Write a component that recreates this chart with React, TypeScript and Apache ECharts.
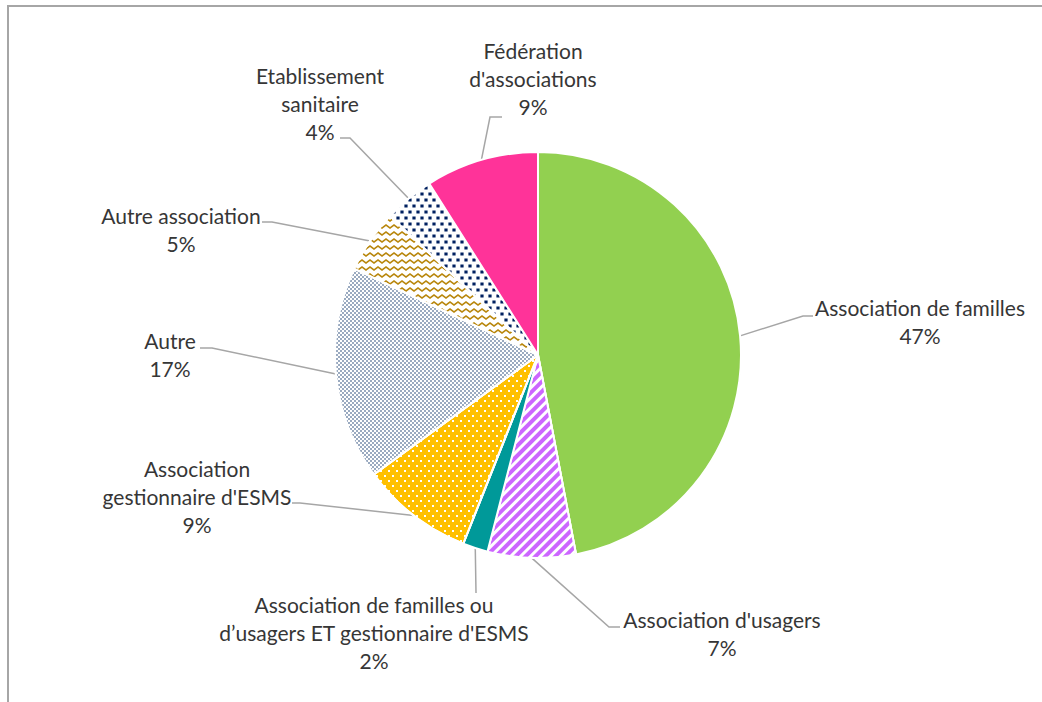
import React, { useEffect, useRef } from "react";
import * as echarts from "echarts";

// ---- Data (clockwise from 12 o'clock) ----
const categories: string[] = [
  "Association de familles",
  "Association d'usagers",
  "Association de familles ou\nd’usagers ET gestionnaire d'ESMS",
  "Association\ngestionnaire d'ESMS",
  "Autre",
  "Autre association",
  "Etablissement\nsanitaire",
  "Fédération\nd'associations",
];
const percentages: number[] = [47, 7, 2, 9, 17, 5, 4, 9];

// ---- Styling (not data) ----
const fills: string[] = [
  "#92D050",
  "#FFFFFF",
  "#009999",
  "#FFC000",
  "#FFFFFF",
  "#FFFFFF",
  "#FFFFFF",
  "#FF3399",
];
const decals: any[] = [
  null,
  { symbol: "rect", symbolSize: 1, color: "#CC66FF", dashArrayX: [1, 0], dashArrayY: [3.2, 3], rotation: -Math.PI / 4 },
  null,
  { symbol: "rect", symbolSize: 1, color: "#FFFFFF", dashArrayX: [[2, 6], [0, 4, 2, 2]], dashArrayY: [2, 2.5] },
  { symbol: "rect", symbolSize: 1, color: "#9AAAC0", dashArrayX: [[2, 2], [0, 2, 2, 0]], dashArrayY: [2, 0] },
  {
    symbol: "path://M0,1.5 L2,0 L6,3 L8,1.5 L8,3.3 L6,4.8 L2,1.8 L0,3.3 Z",
    symbolSize: 1,
    color: "#B8860B",
    dashArrayX: [8, 0],
    dashArrayY: [4.8, 2],
  },
  { symbol: "rect", symbolSize: 0.8, color: "#002060", dashArrayX: [[3.5, 3.5], [0, 3.5, 3.5, 0]], dashArrayY: [3.5, 1.5] },
  null,
];

// label placement: centre of text block, elbow of leader line, end of leader line
const labelPlacement = [
  { x: 920, y: 321, elbow: [803, 316], end: [813, 316] },
  { x: 722, y: 633, elbow: [609, 627], end: [620, 627] },
  { x: 374, y: 632, elbow: [476, 592], end: [476, 593] },
  { x: 197, y: 496, elbow: [300, 503], end: [292, 503] },
  { x: 170, y: 354, elbow: [212, 348], end: [200, 348] },
  { x: 181, y: 229, elbow: [272, 222], end: [262, 222] },
  { x: 320, y: 103, elbow: [350, 138], end: [340, 138] },
  { x: 533, y: 78, elbow: [490, 117], end: [502, 117] },
];

const CENTER: [number, number] = [538, 355];
const RADIUS = 203;

export default function App() {
  const ref = useRef<HTMLDivElement>(null);

  useEffect(() => {
    if (!ref.current) return;
    const chart = echarts.init(ref.current, undefined, { renderer: "svg" });

    const total = percentages.reduce((a, b) => a + b, 0);
    const data = categories.map((name, i) => {
      const item: any = {
        name,
        value: percentages[i],
        itemStyle: { color: fills[i], borderColor: "#FFFFFF", borderWidth: 2 },
      };
      if (decals[i]) item.itemStyle.decal = decals[i];
      return item;
    });

    const cum: number[] = [];
    let acc = 0;
    percentages.forEach((v) => {
      cum.push(acc + v / 2);
      acc += v;
    });

    const option: any = {
      animation: false,
      backgroundColor: "#FFFFFF",
      graphic: [
        {
          type: "rect",
          silent: true,
          z: -1,
          shape: { x: 8, y: 6, width: 1100, height: 800 },
          style: { fill: "none", stroke: "#A6A6A6", lineWidth: 2 },
        },
      ],
      series: [
        {
          type: "pie",
          center: CENTER,
          radius: RADIUS,
          startAngle: 90,
          clockwise: true,
          avoidLabelOverlap: false,
          data,
          label: {
            show: true,
            position: "outside",
            formatter: "{b}\n{c}%",
            fontFamily: "Lato",
            fontSize: 21,
            lineHeight: 28,
            color: "#363636",
            align: "center",
          },
          labelLine: {
            show: true,
            length: 20,
            length2: 10,
            lineStyle: { color: "#A6A6A6", width: 1.5 },
          },
          labelLayout: (params: any) => {
            const p = labelPlacement[params.dataIndex];
            const ang = ((90 - (cum[params.dataIndex] / total) * 360) * Math.PI) / 180;
            const start =
              params.labelLinePoints && params.labelLinePoints[0]
                ? params.labelLinePoints[0]
                : [CENTER[0] + RADIUS * Math.cos(ang), CENTER[1] - RADIUS * Math.sin(ang)];
            return {
              x: p.x,
              y: p.y,
              align: "center",
              verticalAlign: "middle",
              labelLinePoints: [start, p.elbow, p.end],
            };
          },
          emphasis: { disabled: true },
        },
      ],
    };

    chart.setOption(option);
    return () => chart.dispose();
  }, []);

  return (
    <div
      ref={ref}
      style={{ position: "absolute", left: 0, top: 0, width: 1042, height: 702 }}
    />
  );
}
